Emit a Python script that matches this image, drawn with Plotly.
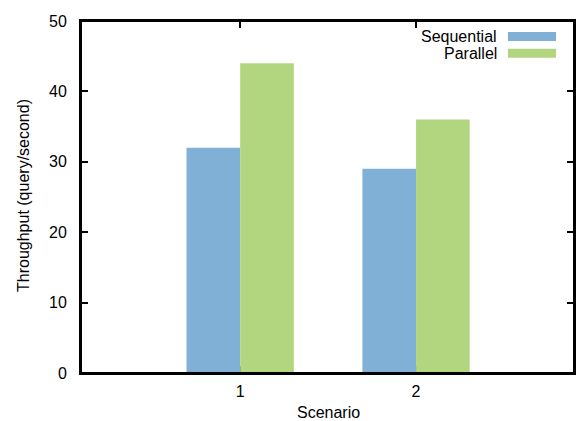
import plotly.graph_objects as go

categories = ["1", "2"]
cat_pos = [0, 1]
sequential = [32, 29]
parallel = [44, 36]
y_ticks = [0, 10, 20, 30, 40, 50]

BLUE = "#80b0d6"
GREEN = "#b2d680"
FONT = "Liberation Sans, Arial, Helvetica, sans-serif"
FS = 16

L, R, T, B = 81, 2, 21, 48
W, H = 576, 421
pw, ph = W - L - R, H - T - B

fig = go.Figure()
fig.add_trace(go.Bar(x=cat_pos, y=sequential, name="Sequential",
                     marker=dict(color=BLUE, line=dict(width=0))))
fig.add_trace(go.Bar(x=cat_pos, y=parallel, name="Parallel",
                     marker=dict(color=GREEN, line=dict(width=0))))

fig.update_layout(
    width=W, height=H,
    margin=dict(l=L, r=R, t=T, b=B, autoexpand=False),
    paper_bgcolor="white", plot_bgcolor="white",
    barmode="group", bargap=0.39, bargroupgap=0,
    showlegend=False,
    font=dict(family=FONT, size=FS, color="black"),
    xaxis=dict(
        range=[-0.905, 1.898], tickvals=cat_pos, ticktext=categories,
        ticks="inside", ticklen=7, tickwidth=2, tickcolor="black",
        showgrid=False, zeroline=False, automargin=False,
        showline=True, linewidth=2, linecolor="black", mirror="ticks",
        layer="below traces",
        ticklabelstandoff=3, tickfont=dict(size=FS),
    ),
    yaxis=dict(
        range=[0, 50], tickvals=y_ticks, ticks="inside", ticklen=7,
        tickwidth=2, tickcolor="black", showgrid=False, zeroline=False,
        showline=True, linewidth=2, linecolor="black", mirror="ticks",
        automargin=False, ticklabelstandoff=9, tickfont=dict(size=FS),
    ),
)

# plot frame drawn above the bars
fig.add_shape(type="rect", xref="paper", yref="paper", x0=0, x1=1, y0=0, y1=1,
              line=dict(color="black", width=2), fillcolor="rgba(0,0,0,0)",
              layer="above")

# axis titles
fig.add_annotation(xref="paper", yref="paper",
                   x=(328.5 - L) / pw, y=1 - (412 - T) / ph,
                   text="Scenario", showarrow=False,
                   xanchor="center", yanchor="middle",
                   font=dict(family=FONT, size=FS))
fig.add_annotation(xref="paper", yref="paper",
                   x=(24 - L) / pw, y=1 - (196 - T) / ph,
                   text="Throughput (query/second)", showarrow=False,
                   textangle=-90, xanchor="center", yanchor="middle",
                   font=dict(family=FONT, size=FS))

# gnuplot-style key (top right)
legend_items = [("Sequential", BLUE), ("Parallel", GREEN)]
for i, (label, col) in enumerate(legend_items):
    yc = 1 - (15.5 + 16.7 * i) / ph
    fig.add_annotation(xref="paper", yref="paper", x=(499 - L) / pw, y=yc,
                       text=label, showarrow=False, xanchor="right",
                       yanchor="middle", font=dict(family=FONT, size=FS))
    fig.add_shape(type="rect", xref="paper", yref="paper",
                  x0=(508 - L) / pw, x1=(556 - L) / pw,
                  y0=yc - 4.5 / ph, y1=yc + 4.5 / ph,
                  fillcolor=col, line=dict(width=0))

fig.write_html("out.html",
               config={"displayModeBar": False},
               post_script="document.body.style.margin='0';"
                           "document.body.style.overflow='hidden';")
